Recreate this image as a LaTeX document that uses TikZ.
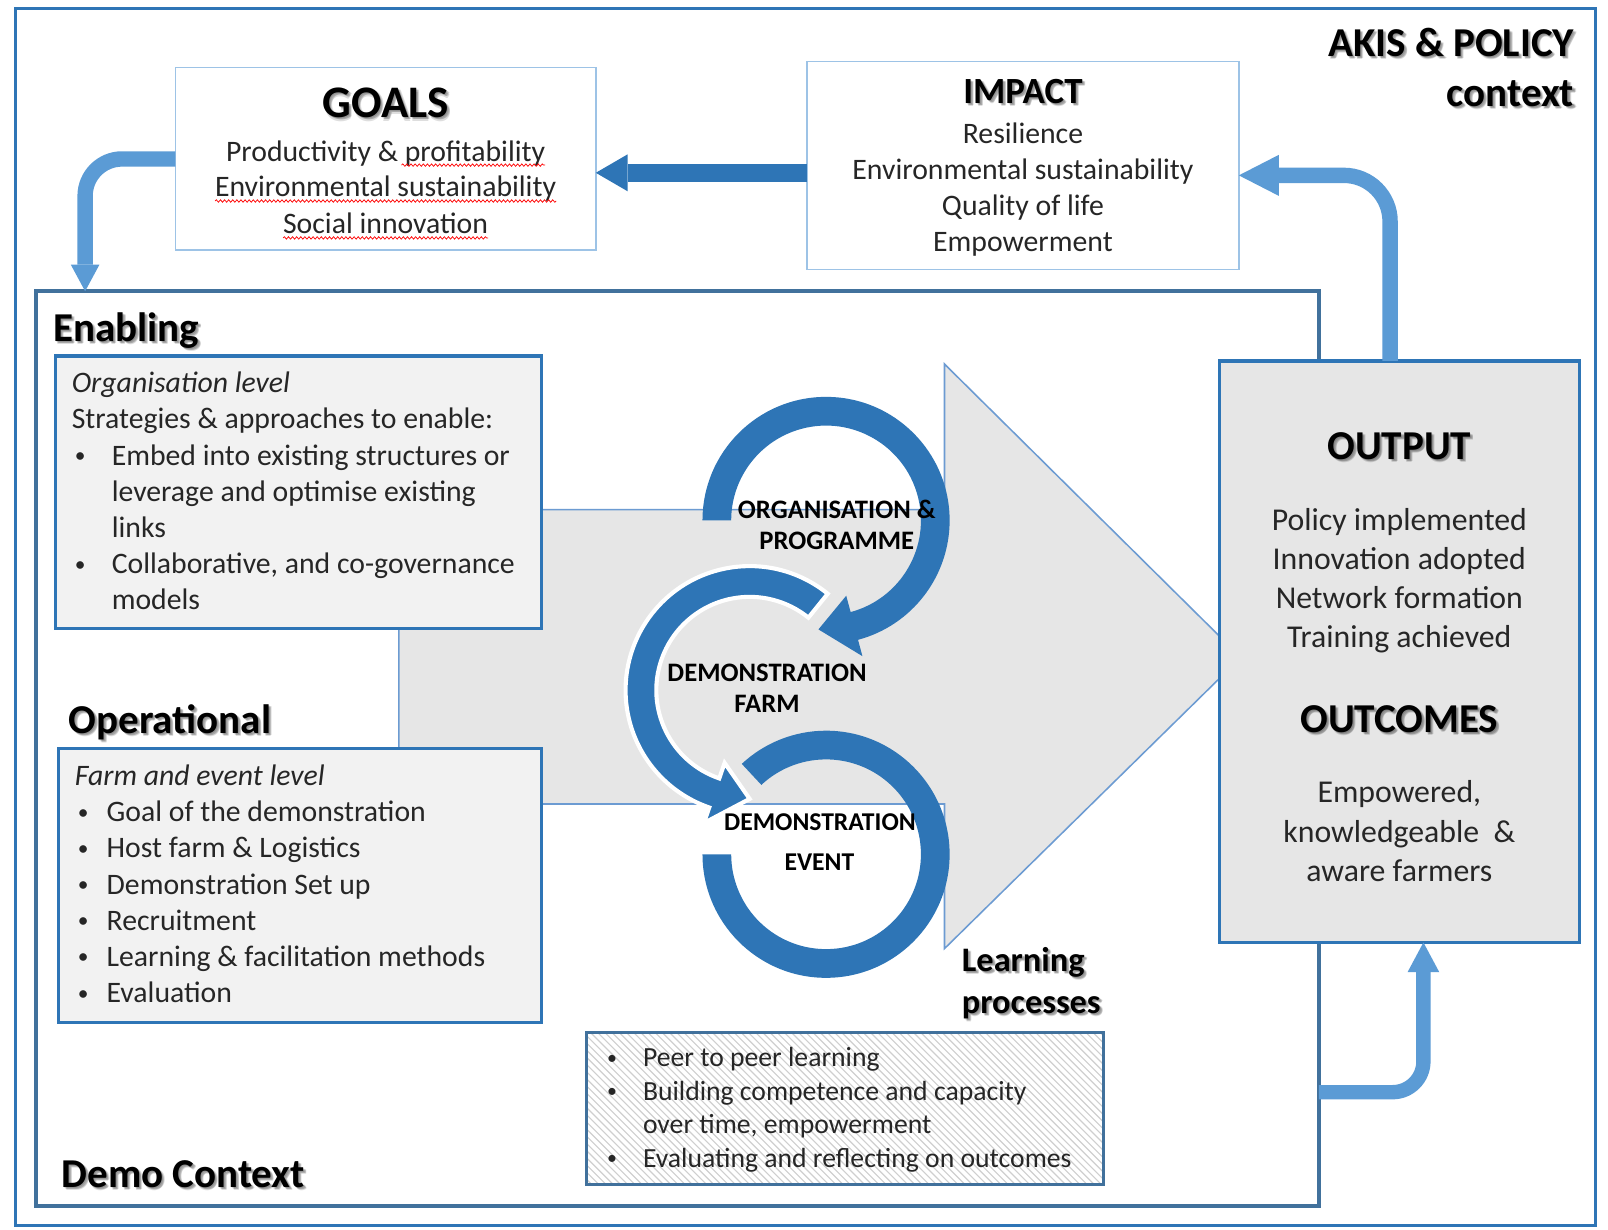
\documentclass[tikz,border=0pt]{standalone}
\usepackage{fontspec}
\setmainfont{Carlito}
\usetikzlibrary{arrows.meta,calc,decorations.pathmorphing}
\definecolor{frameblue}{HTML}{2E75B6}
\definecolor{darkframe}{HTML}{41719C}
\definecolor{lightframe}{HTML}{9DC3E6}
\definecolor{arrowblue}{HTML}{5B9BD5}
\definecolor{ringblue}{HTML}{2E75B6}
\definecolor{boxgray}{HTML}{F2F2F2}
\definecolor{biggray}{HTML}{E6E6E6}
\definecolor{txtgray}{HTML}{262626}
\definecolor{bigline}{HTML}{6C9BD2}
\definecolor{hatchgray}{HTML}{CFCFCF}
\newcommand{\fsz}[2]{\fontsize{#1}{#2}\selectfont}
\newcommand{\bul}[1]{\makebox[#1][l]{\hspace{3pt}\raisebox{0.09em}{\scalebox{0.72}{\textbullet}}}}
% soft drop shadow behind a heading: style, anchor, position, text
\newcommand{\shadowtext}[4]{%
  \foreach \dx/\dy in {1/1,2/2,2.5/3,3/2}
    \node[#1,anchor=#2,text=black,opacity=0.13] at ($(#3)+(\dx,\dy)$) {#4};}
\begin{document}
\begin{tikzpicture}[x=1pt,y=-1pt,
  every node/.style={inner sep=0pt,outer sep=0pt},
  panel/.style={rectangle,anchor=north west},
  headtxt/.style={font=\fsz{40}{48}\bfseries,text=black},
  goalfont/.style={font=\fsz{44}{50}\bfseries,text=black},
  impfont/.style={font=\fsz{36}{42}\bfseries,text=black},
  lpfont/.style={font=\fsz{33.5}{41}\bfseries,text=black},
  bodytxt/.style={font=\fsz{29}{35},text=txtgray},
  outtxt/.style={font=\fsz{31}{38},text=txtgray},
  learntxt/.style={font=\fsz{27}{33},text=txtgray},
  ringtxt/.style={font=\fsz{26}{30}\bfseries,text=black},
  ringtxtsm/.style={font=\fsz{25}{30}\bfseries,text=black},
  lightarrow/.style={draw=arrowblue,line width=15pt},
  wave/.style={draw=red,line width=0.7pt,decorate,decoration={snake,amplitude=1.2pt,segment length=4pt}}
]
\fill[white] (0,0) rectangle (1568,1199);
\useasboundingbox (0,0) rectangle (1568,1199);

% outer AKIS frame
\draw[frameblue,line width=3pt] (15,8) rectangle (1556,1195);
\shadowtext{headtxt}{base east}{1535,55}{AKIS \& POLICY}
\shadowtext{headtxt}{base east}{1535,104}{context}
\node[headtxt,anchor=base east] (akis1) at (1535,55) {AKIS \& POLICY};
\node[headtxt,anchor=base east] (akis2) at (1535,104) {context};

% GOALS and IMPACT boxes
\node[panel,draw=lightframe,line width=1.5pt,fill=white,minimum width=410pt,minimum height=178pt] (goals) at (171,66) {};
\node[panel,draw=lightframe,line width=1.5pt,fill=white,minimum width=421pt,minimum height=203pt] (impact) at (787,60) {};

\shadowtext{goalfont}{base}{376,115}{GOALS}
\node[goalfont,anchor=base] (goalsT) at (376,115) {GOALS};
\node[bodytxt,anchor=base] (g1) at (376,157) {Productivity \& profitability};
\node[bodytxt,anchor=base] (g2) at (376,192) {Environmental sustainability};
\node[bodytxt,anchor=base] (g3) at (376,228) {Social innovation};
\draw[wave] ($(g1.base east)+(-140,4)$) -- ($(g1.base east)+(0,4)$);
\draw[wave] ($(g2.base west)+(0,4)$) -- ($(g2.base east)+(0,4)$);
\draw[wave] ($(g3.base west)+(0,4)$) -- ($(g3.base east)+(0,4)$);

\shadowtext{impfont}{base}{997.5,101}{IMPACT}
\node[impfont,anchor=base] (impT) at (997.5,101) {IMPACT};
\node[bodytxt,anchor=base] (i1) at (997.5,140) {Resilience};
\node[bodytxt,anchor=base] (i2) at (997.5,175) {Environmental sustainability};
\node[bodytxt,anchor=base] (i3) at (997.5,210) {Quality of life};
\node[bodytxt,anchor=base] (i4) at (997.5,245) {Empowerment};

% Demo context box
\node[panel,draw=darkframe,line width=3.5pt,minimum width=1251pt,minimum height=892pt] (demo) at (35,284) {};

% big grey block arrow
\filldraw[fill=biggray,draw=bigline,line width=1.5pt]
  (389,497) -- (921,497) -- (921,355) -- (1210,641) -- (921,925) -- (921,784) -- (389,784) -- cycle;

% Enabling and operational boxes
\node[panel,draw=frameblue,line width=3.5pt,fill=boxgray,minimum width=474pt,minimum height=266pt] (enab) at (54,347) {};
\node[panel,draw=frameblue,line width=3.5pt,fill=boxgray,minimum width=471pt,minimum height=267pt] (oper) at (57,730) {};

\shadowtext{headtxt}{base west}{52,333}{Enabling}
\shadowtext{headtxt}{base west}{67,715}{Operational}
\shadowtext{headtxt}{base west}{60,1158}{Demo Context}
\node[headtxt,anchor=base west] (enT) at (52,333) {Enabling};
\node[headtxt,anchor=base west] (opT) at (67,715) {Operational};
\node[headtxt,anchor=base west] (dcT) at (60,1158) {Demo Context};

\foreach \t [count=\i] in {{\itshape Organisation level},{Strategies \& approaches to enable:},{\bul{39pt}Embed into existing structures or},{\hspace*{39pt}leverage and optimise existing},{\hspace*{39pt}links},{\bul{39pt}Collaborative, and co-governance},{\hspace*{39pt}models}}
  \node[bodytxt,anchor=base west] (en\i) at (70,{383+35.3*(\i-1)}) {\t};

\foreach \t [count=\i] in {{\itshape Farm and event level},{\bul{31pt}Goal of the demonstration},{\bul{31pt}Host farm \& Logistics},{\bul{31pt}Demonstration Set up},{\bul{31pt}Recruitment},{\bul{31pt}Learning \& facilitation methods},{\bul{31pt}Evaluation}}
  \node[bodytxt,anchor=base west] (op\i) at (73,{766+35.3*(\i-1)}) {\t};

% Learning processes box (hatched)
\node[panel,fill=white,minimum width=504pt,minimum height=148pt] (learnbox) at (572,1007) {};
\begin{scope}
  \clip (learnbox.north west) rectangle (learnbox.south east);
  \foreach \k in {0,...,95} \draw[hatchgray,line width=1.1pt] ({422+\k*7},1007) -- ++(150,150);
\end{scope}
\draw[darkframe,line width=3.5pt] (learnbox.north west) rectangle (learnbox.south east);
\foreach \t [count=\i] in {{\bul{38pt}Peer to peer learning},{\bul{38pt}Building competence and capacity},{\hspace*{38pt}over time, empowerment},{\bul{38pt}Evaluating and reflecting on outcomes}}
  \node[learntxt,anchor=base west] (lp\i) at (589,{1040+32.7*(\i-1)}) {\t};
\shadowtext{lpfont}{base west}{938,947}{Learning}
\shadowtext{lpfont}{base west}{938,988}{processes}
\node[lpfont,anchor=base west] (lpT1) at (938,947) {Learning};
\node[lpfont,anchor=base west] (lpT2) at (938,988) {processes};

% OUTPUT box
\node[panel,draw=frameblue,line width=3.5pt,fill=biggray,minimum width=351pt,minimum height=567pt] (output) at (1189,352) {};
\shadowtext{headtxt}{base}{1364.5,448}{OUTPUT}
\shadowtext{headtxt}{base}{1364.5,714}{OUTCOMES}
\node[headtxt,anchor=base] (outT) at (1364.5,448) {OUTPUT};
\node[outtxt,anchor=base] (o1) at (1364.5,517) {Policy implemented};
\node[outtxt,anchor=base] (o2) at (1364.5,555) {Innovation adopted};
\node[outtxt,anchor=base] (o3) at (1364.5,593) {Network formation};
\node[outtxt,anchor=base] (o4) at (1364.5,631) {Training achieved};
\node[headtxt,anchor=base] (ocT) at (1364.5,714) {OUTCOMES};
\node[outtxt,anchor=base] (oc1) at (1364.5,783) {Empowered,};
\node[outtxt,anchor=base] (oc2) at (1364.5,822) {knowledgeable~~\&};
\node[outtxt,anchor=base] (oc3) at (1364.5,860) {aware farmers};

% circular arrows
\coordinate (c1) at (805.5,507.5);
\coordinate (c2) at (731,673);
\coordinate (c3) at (805.5,833);
\fill[ringblue] ($(c3)+(180:120.5)$) arc[start angle=180,end angle=-133,radius=120.5]
  -- ($(c3)+(-133:92.5)$) arc[start angle=-133,end angle=180,radius=92.5] -- cycle;
\fill[ringblue] ($(c1)+(180:120.5)$) arc[start angle=180,end angle=435,radius=120.5]
  -- ($(c1)+(435:137)$) -- ($(c1)+(454:106.5)$) -- ($(c1)+(435:76)$)
  -- ($(c1)+(435:92.5)$) arc[start angle=435,end angle=180,radius=92.5] -- cycle;
\filldraw[fill=ringblue,draw=white,line width=4pt] ($(c2)+(-51:121)$) arc[start angle=-51,end angle=-251,radius=121]
  -- ($(c2)+(-251:137)$) -- ($(c2)+(-270:106)$) -- ($(c2)+(-251:75)$)
  -- ($(c2)+(-251:91)$) arc[start angle=-251,end angle=-51,radius=91] -- cycle;

\node[ringtxt,anchor=base] (r1a) at (816,505.5) {ORGANISATION \&};
\node[ringtxt,anchor=base] (r1b) at (816,535.5) {PROGRAMME};
\node[ringtxt,anchor=base] (r2a) at (748,664.5) {DEMONSTRATION};
\node[ringtxt,anchor=base] (r2b) at (748,694.5) {FARM};
\node[ringtxtsm,anchor=base] (r3a) at (799.5,810) {DEMONSTRATION};
\node[ringtxtsm,anchor=base] (r3b) at (799,849) {EVENT};

% connectors
\draw[lightarrow,rounded corners=36pt,-{Triangle[length=26pt,width=28pt,line width=0pt]}]
  (goals.west) -| ($(demo.north west)+(48,0)$);
\coordinate (ia) at ($(impact.west)+(0,7)$);
\draw[draw=ringblue,line width=17pt,-{Triangle[length=31pt,width=36pt,line width=0pt]}]
  (ia) -- (ia -| goals.east);
\coordinate (oc) at ($(output.north)+(-9,0)$);
\coordinate (ie) at ($(impact.east)+(0,9.5)$);
\draw[lightarrow,rounded corners=45pt,-{Triangle[length=39pt,width=40pt,line width=0pt]}]
  (oc) |- (ie);
\coordinate (ds) at ($(demo.south east)+(0,-111)$);
\coordinate (os) at ($(output.south)+(23.5,0)$);
\draw[lightarrow,line width=14pt,rounded corners=30pt,-{Triangle[length=29pt,width=31pt,line width=0pt]}]
  (ds) -| (os);
\end{tikzpicture}
\end{document}
